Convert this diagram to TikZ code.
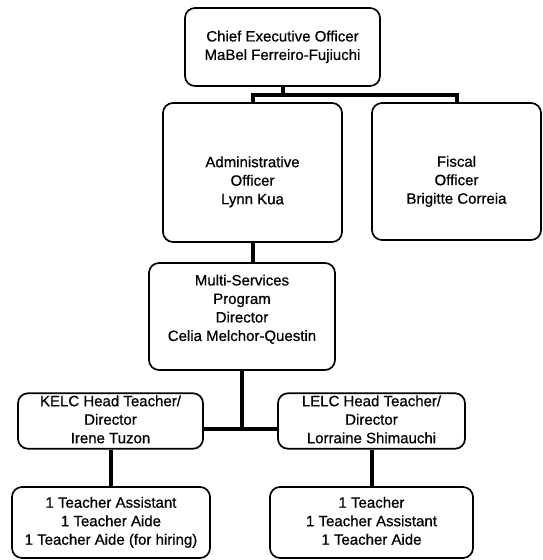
\documentclass[tikz,border=0pt]{standalone}
\usepackage{fontspec}
\setmainfont[FakeBold=0.6]{Liberation Sans}
\usepackage{tikz}
\usetikzlibrary{positioning}

\begin{document}
\begin{tikzpicture}[
    x=1pt, y=1pt,
    font=\fontsize{15}{18.5}\selectfont,
    post/.style={
		rectangle,
		rounded corners=10pt,
		draw=black,
		line width=1.7pt,
		text centered,
		inner sep=0pt,
		fill=white
	},
	link/.style={
		line width=4pt
	}
  ]
  \useasboundingbox (0,0) rectangle (543,-560);

    % We start by placing the blocks
  \node [post, minimum width=195, minimum height=78] (ceo) at (282.5,-47)
 {%
 \begin{tabular}{c}
  Chief Executive Officer\\
  MaBel Ferreiro-Fujiuchi
 \end{tabular}
 };

  \node [post, minimum width=179, minimum height=139] (admin) at (252.5,-172.5)
 {%
 \raisebox{-9.5pt}[\height][\depth]{\begin{tabular}{c}
  Administrative\\
  Officer\\
  Lynn Kua
 \end{tabular}}
 };

  \node [post, minimum width=169, minimum height=137] (fiscal) at (456.5,-171.5)
 {%
 \raisebox{-10pt}[\height][\depth]{\begin{tabular}{c}
  Fiscal\\
  Officer\\
  Brigitte Correia
 \end{tabular}}
 };

  \node [post, minimum width=186, minimum height=107] (msp) at (242,-316.5)
 {%
 \raisebox{7pt}[\height][\depth]{\begin{tabular}{c}
  Multi-Services\\
  Program\\
  Director\\
  Celia Melchor-Questin
 \end{tabular}}
 };

  \node [post, minimum width=185, minimum height=52] (kelc) at (110.5,-421)
 {%
 \begin{tabular}{c}
  KELC Head Teacher/\\
  Director\\
  Irene Tuzon
 \end{tabular}
 };

  \node [post, minimum width=187, minimum height=52] (lelc) at (371.5,-421)
 {%
 \begin{tabular}{c}
  LELC Head Teacher/\\
  Director\\
  Lorraine Shimauchi
 \end{tabular}
 };

  \node [post, minimum width=198, minimum height=71] (kstaff) at (111,-522.5)
 {%
 \begin{tabular}{c}
  1 Teacher Assistant\\
  1 Teacher Aide\\
  1 Teacher Aide (for hiring)
 \end{tabular}
 };

  \node [post, minimum width=203, minimum height=71] (lstaff) at (371.5,-522.5)
 {%
 \begin{tabular}{c}
  1 Teacher\\
  1 Teacher Assistant\\
  1 Teacher Aide
 \end{tabular}
 };

  % then the lines between them
 \coordinate (topbus) at (0,-95);
 \coordinate (lowbus) at (0,-429);
 \draw [link] (ceo.south) -- (ceo.south |- topbus);
 \draw [link] (admin) |- (topbus -| fiscal) -- (fiscal);
 \draw [link] (admin.south) -- (admin.south |- msp.north);
 \draw [link] (msp.south) -- (msp.south |- lowbus);
 \draw [link] (kelc.east |- lowbus) -- (lelc.west |- lowbus);
 \draw [link] (kelc.south) -- (kelc.south |- kstaff.north);
 \draw [link] (lelc.south) -- (lelc.south |- lstaff.north);

\end{tikzpicture}
\end{document}
